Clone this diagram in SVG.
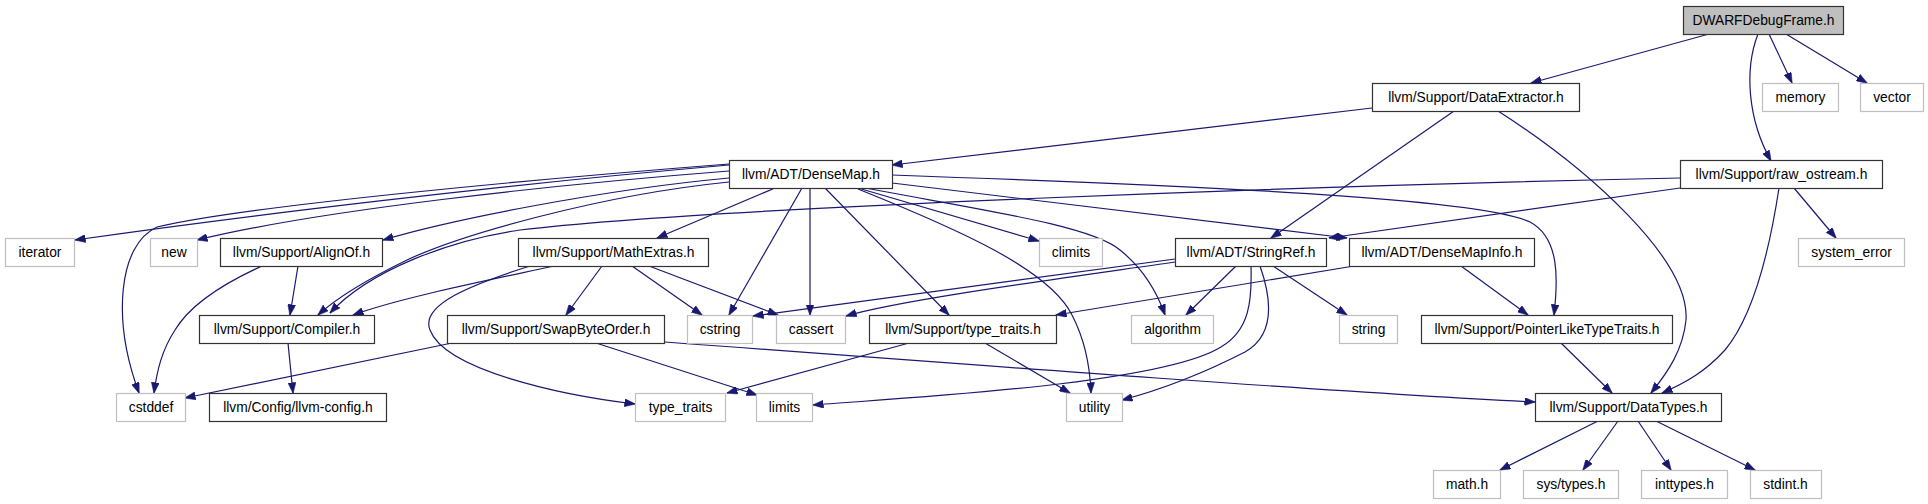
<svg xmlns="http://www.w3.org/2000/svg" width="1928" height="504" viewBox="0 0 1928 504">
<style>
.n rect{fill:#fff;stroke:#333;stroke-width:1.2}
.g rect{fill:#fff;stroke:#bfbfbf;stroke-width:1.2}
.r rect{fill:#bfbfbf;stroke:#333;stroke-width:1.2}
text{font-family:"Liberation Sans",Arial,Helvetica,sans-serif;font-size:13.8px;text-anchor:middle;fill:#000}
#edges path{fill:none;stroke:#191970;stroke-width:1.2;marker-end:url(#ah)}
</style>
<defs>
<marker id="ah" viewBox="0 0 11 8" refX="10.5" refY="4" markerWidth="11" markerHeight="8" markerUnits="userSpaceOnUse" orient="auto">
<path d="M0,0 L11,4 L0,8 z" fill="#191970" stroke="#191970" stroke-width="0.5"/>
</marker>
</defs>
<rect width="1928" height="504" fill="#fff"/>
<g id="edges">
<path d="M1709,34 L1531,83"/>
<path d="M1758,34 C1744,70 1748,120 1771,161"/>
<path d="M1769,34 L1792,83"/>
<path d="M1786,34 L1867,83"/>
<path d="M1372,108 L892,165"/>
<path d="M1454,111 L1271,238"/>
<path d="M1498,111 C1590,170 1690,260 1686,320 C1683,350 1668,372 1651,393"/>
<path d="M1680,178 C1300,186 700,208 520,230 C450,240 370,270 330,313"/>
<path d="M1680,188 L1329,238"/>
<path d="M1779,188 C1768,260 1750,320 1725,350 C1705,372 1685,383 1662,393"/>
<path d="M1794,188 L1836,238"/>
<path d="M729,165 C500,185 250,215 75,240"/>
<path d="M729,171 C550,185 320,210 197,240"/>
<path d="M729,164 C550,178 250,205 157,227 C118,245 112,320 139,393"/>
<path d="M729,178 C600,190 450,220 383,240"/>
<path d="M729,182 C600,195 460,235 407,260 C370,278 340,295 318,315"/>
<path d="M775,188 L657,238"/>
<path d="M802,188 L729,315"/>
<path d="M810,188 L810,315"/>
<path d="M825,188 L949,315"/>
<path d="M858,188 L1039,241"/>
<path d="M858,189 C960,230 1050,270 1072,315 C1085,340 1090,365 1091,393"/>
<path d="M860,187 C980,210 1090,225 1120,250 C1145,270 1158,295 1165,315"/>
<path d="M892,183 L1347,238"/>
<path d="M892,175 C1200,186 1480,198 1530,222 C1560,238 1558,280 1554,315"/>
<path d="M554,266 C480,282 400,298 353,315"/>
<path d="M530,266 C470,285 420,305 430,330 C445,370 560,395 635,404"/>
<path d="M602,266 L566,315"/>
<path d="M632,266 L702,315"/>
<path d="M649,266 L778,315"/>
<path d="M298,266 L290,315"/>
<path d="M262,266 C220,285 190,305 175,330 C162,350 157,370 154,393"/>
<path d="M288,343 L293,393"/>
<path d="M452,343 L185,398"/>
<path d="M596,343 L757,395"/>
<path d="M665,342 C1000,367 1350,393 1535,402"/>
<path d="M909,343 L727,393"/>
<path d="M985,343 L1070,393"/>
<path d="M1175,259 L753,316"/>
<path d="M1175,262 C1050,280 900,300 846,316"/>
<path d="M1236,266 L1186,315"/>
<path d="M1251,266 C1252,300 1250,330 1221,347 C1160,385 900,398 813,405"/>
<path d="M1260,266 C1272,300 1275,335 1245,352 C1200,375 1160,390 1122,400"/>
<path d="M1273,266 L1347,315"/>
<path d="M1354,266 L1056,315"/>
<path d="M1461,266 L1528,315"/>
<path d="M1561,343 L1612,393"/>
<path d="M1598,421 L1500,470"/>
<path d="M1618,421 L1583,470"/>
<path d="M1638,421 L1671,470"/>
<path d="M1656,421 L1755,470"/>
</g>
<g id="n_dwarf" class="r"><rect x="1683.5" y="6.5" width="160" height="28"/><text x="1763.5" y="25">DWARFDebugFrame.h</text></g>
<g id="n_dataextractor" class="n"><rect x="1372.5" y="83.5" width="207" height="28"/><text x="1476" y="102">llvm/Support/DataExtractor.h</text></g>
<g id="n_memory" class="g"><rect x="1762.5" y="83.5" width="76" height="28"/><text x="1800.5" y="102">memory</text></g>
<g id="n_vector" class="g"><rect x="1860.5" y="83.5" width="63" height="28"/><text x="1892" y="102">vector</text></g>
<g id="n_densemap" class="n"><rect x="729.5" y="160.5" width="163" height="28"/><text x="811" y="179">llvm/ADT/DenseMap.h</text></g>
<g id="n_raw_ostream" class="n"><rect x="1680.5" y="160.5" width="202" height="28"/><text x="1781.5" y="179">llvm/Support/raw_ostream.h</text></g>
<g id="n_iterator" class="g"><rect x="5.5" y="238.5" width="69" height="28"/><text x="40" y="257">iterator</text></g>
<g id="n_new" class="g"><rect x="150.5" y="238.5" width="47" height="28"/><text x="174" y="257">new</text></g>
<g id="n_alignof" class="n"><rect x="220.5" y="238.5" width="162" height="28"/><text x="301.5" y="257">llvm/Support/AlignOf.h</text></g>
<g id="n_mathextras" class="n"><rect x="518.5" y="238.5" width="190" height="28"/><text x="613.5" y="257">llvm/Support/MathExtras.h</text></g>
<g id="n_climits" class="g"><rect x="1039.5" y="238.5" width="63" height="28"/><text x="1071" y="257">climits</text></g>
<g id="n_stringref" class="n"><rect x="1175.5" y="238.5" width="151" height="28"/><text x="1251" y="257">llvm/ADT/StringRef.h</text></g>
<g id="n_densemapinfo" class="n"><rect x="1349.5" y="238.5" width="185" height="28"/><text x="1442" y="257">llvm/ADT/DenseMapInfo.h</text></g>
<g id="n_system_error" class="g"><rect x="1798.5" y="238.5" width="106" height="28"/><text x="1851.5" y="257">system_error</text></g>
<g id="n_compiler" class="n"><rect x="199.5" y="315.5" width="175" height="28"/><text x="287" y="334">llvm/Support/Compiler.h</text></g>
<g id="n_swapbyteorder" class="n"><rect x="447.5" y="315.5" width="217" height="28"/><text x="556" y="334">llvm/Support/SwapByteOrder.h</text></g>
<g id="n_cstring" class="g"><rect x="687.5" y="315.5" width="65" height="28"/><text x="720" y="334">cstring</text></g>
<g id="n_cassert" class="g"><rect x="776.5" y="315.5" width="69" height="28"/><text x="811" y="334">cassert</text></g>
<g id="n_type_traits_h" class="n"><rect x="869.5" y="315.5" width="187" height="28"/><text x="963" y="334">llvm/Support/type_traits.h</text></g>
<g id="n_algorithm" class="g"><rect x="1131.5" y="315.5" width="82" height="28"/><text x="1172.5" y="334">algorithm</text></g>
<g id="n_string" class="g"><rect x="1339.5" y="315.5" width="58" height="28"/><text x="1368.5" y="334">string</text></g>
<g id="n_pointerlike" class="n"><rect x="1421.5" y="315.5" width="251" height="28"/><text x="1547" y="334">llvm/Support/PointerLikeTypeTraits.h</text></g>
<g id="n_cstddef" class="g"><rect x="116.5" y="393.5" width="69" height="28"/><text x="151" y="412">cstddef</text></g>
<g id="n_llvm_config" class="n"><rect x="209.5" y="393.5" width="177" height="28"/><text x="298" y="412">llvm/Config/llvm-config.h</text></g>
<g id="n_type_traits" class="g"><rect x="635.5" y="393.5" width="90" height="28"/><text x="680.5" y="412">type_traits</text></g>
<g id="n_limits" class="g"><rect x="756.5" y="393.5" width="56" height="28"/><text x="784.5" y="412">limits</text></g>
<g id="n_utility" class="g"><rect x="1066.5" y="393.5" width="56" height="28"/><text x="1094.5" y="412">utility</text></g>
<g id="n_datatypes" class="n"><rect x="1535.5" y="393.5" width="186" height="28"/><text x="1628.5" y="412">llvm/Support/DataTypes.h</text></g>
<g id="n_math_h" class="g"><rect x="1433.5" y="470.5" width="67" height="28"/><text x="1467" y="489">math.h</text></g>
<g id="n_sys_types" class="g"><rect x="1523.5" y="470.5" width="95" height="28"/><text x="1571" y="489">sys/types.h</text></g>
<g id="n_inttypes" class="g"><rect x="1641.5" y="470.5" width="86" height="28"/><text x="1684.5" y="489">inttypes.h</text></g>
<g id="n_stdint" class="g"><rect x="1750.5" y="470.5" width="71" height="28"/><text x="1785.5" y="489">stdint.h</text></g>
</svg>
